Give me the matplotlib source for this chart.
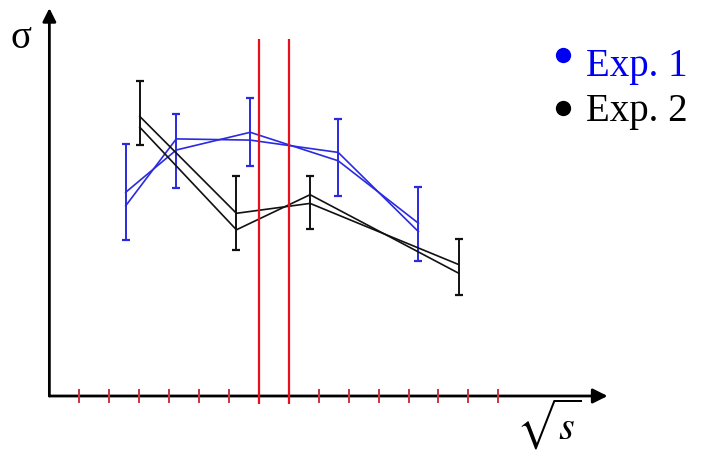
import matplotlib
matplotlib.use('Agg')
import matplotlib.pyplot as plt
import numpy as np

# axis ticks (arbitrary units along sqrt(s)), red lines
tick_pos = np.arange(1, 16)
red_lines = [7, 8]

# Exp. 1 (blue): two curves sharing the same x points
x_exp1 = [2.55, 4.24, 6.71, 9.65, 12.33]
exp1_a = [6.79, 8.20, 8.79, 7.84, 5.76]
exp1_b = [6.34, 8.57, 8.53, 8.12, 5.48]
exp1_lo = [5.21, 6.93, 7.68, 6.67, 4.50]
exp1_hi = [8.41, 9.41, 9.92, 9.22, 6.98]

# Exp. 2 (black)
x_exp2 = [3.02, 6.25, 8.71, 13.68]
exp2_a = [9.32, 6.09, 6.42, 4.38]
exp2_b = [8.96, 5.54, 6.71, 4.09]
exp2_lo = [8.38, 4.87, 5.57, 3.37]
exp2_hi = [10.50, 7.34, 7.34, 5.24]

blue = '#2a2ae0'
W, H = 705, 452
fig = plt.figure(figsize=(W / 100, H / 100), dpi=100)
ax = fig.add_axes([0, 0, 1, 1])
ax.set_xlim(1 - 79.3 / 29.93, 1 + (W - 79.3) / 29.93)
ax.set_ylim(-(H - 397) / 30, 397 / 30)
ax.set_axis_off()

# axes with arrow heads
ax.annotate('', xy=(18.65, 0), xytext=(0, 0),
            arrowprops=dict(arrowstyle='-|>', color='black', lw=2,
                            mutation_scale=22, shrinkA=0, shrinkB=0))
ax.annotate('', xy=(0, 12.93), xytext=(0, 0),
            arrowprops=dict(arrowstyle='-|>', color='black', lw=2,
                            mutation_scale=20, shrinkA=0, shrinkB=0))

ax.vlines(tick_pos, -0.23, 0.23, color='#c9343f', lw=1.4, zorder=3)
ax.vlines(red_lines, -0.27, 11.9, color='#e8101c', lw=1.6, zorder=4)

# experiment curves with error bars
x1 = np.array(x_exp1)
ax.errorbar(x1, (np.array(exp1_lo) + np.array(exp1_hi)) / 2,
            yerr=(np.array(exp1_hi) - np.array(exp1_lo)) / 2,
            fmt='none', ecolor=blue, elinewidth=1.4, capsize=2.8, capthick=1.6)
ax.plot(x_exp1, exp1_a, color=blue, lw=1.2)
ax.plot(x_exp1, exp1_b, color=blue, lw=1.2)

x2 = np.array(x_exp2)
ax.errorbar(x2, (np.array(exp2_lo) + np.array(exp2_hi)) / 2,
            yerr=(np.array(exp2_hi) - np.array(exp2_lo)) / 2,
            fmt='none', ecolor='#111111', elinewidth=1.4, capsize=2.8, capthick=1.6)
ax.plot(x_exp2, exp2_a, color='#111111', lw=1.2)
ax.plot(x_exp2, exp2_b, color='#111111', lw=1.2)


def fpos(px, py):
    return px / W, 1 - py / H


serif = ['Liberation Serif', 'DejaVu Serif']
fig.text(*fpos(21, 38), '\u03c3', fontsize=28, family=serif,
         ha='center', va='center')
plt.rcParams['mathtext.fontset'] = 'stix'
fig.text(*fpos(549, 424), r'$\sqrt{s}$', fontsize=29,
         ha='center', va='center')

# legend as bullets + text
for py_dot, py_base, label, col in [(56, 76, 'Exp. 1', '#0000f0'),
                                   (109, 121.5, 'Exp. 2', 'black')]:
    ax.plot(*fpos(562.5, py_dot), 'o', color=col, ms=10,
            transform=fig.transFigure, clip_on=False)
    fig.text(*fpos(586, py_base), label, fontsize=28, family=serif,
             color=col, ha='left', va='baseline')

fig.savefig('out.png', dpi=100)
